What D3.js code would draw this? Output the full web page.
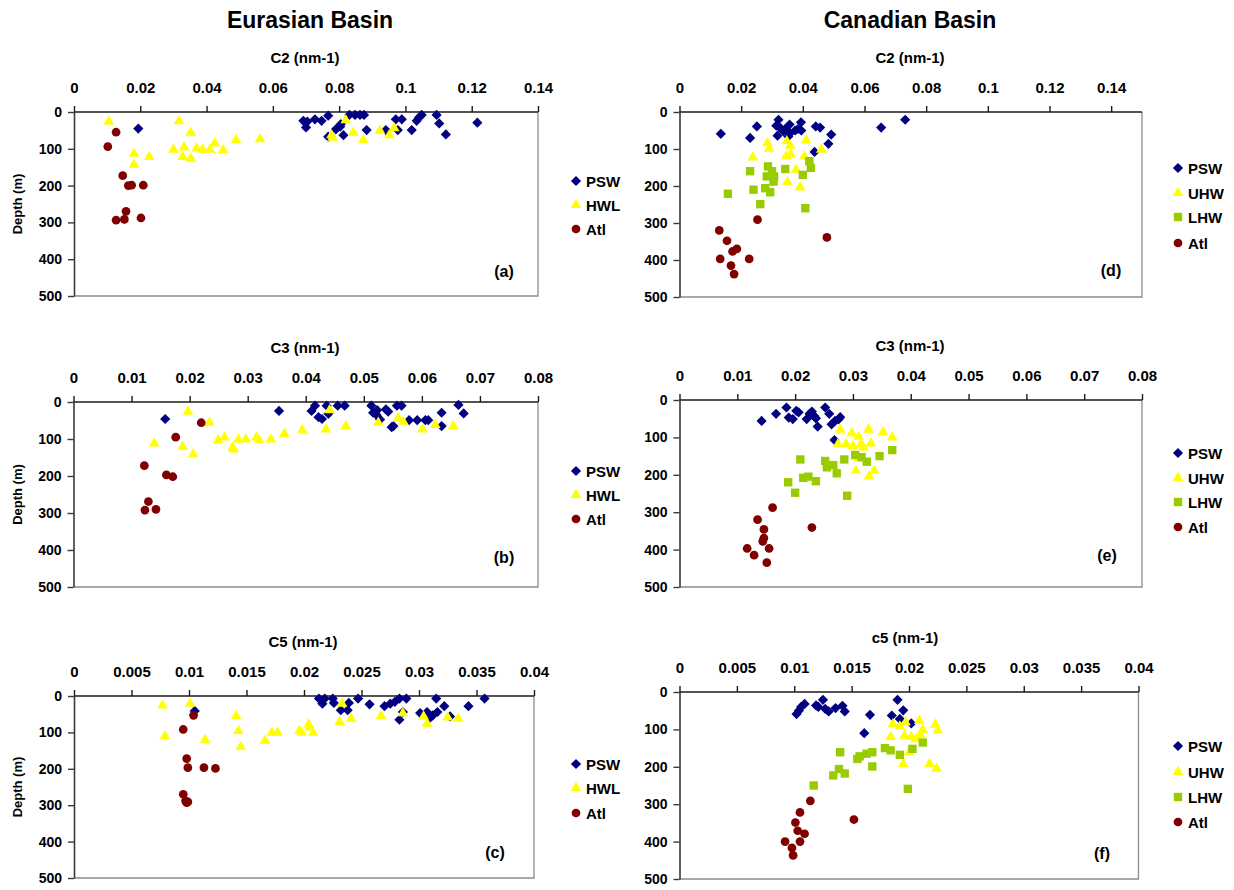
<!DOCTYPE html>
<html><head><meta charset="utf-8">
<script src="https://cdn.jsdelivr.net/npm/d3@7"></script>
<style>
body{margin:0;background:#fff}
text{font-family:Arial,"Liberation Sans",sans-serif;font-weight:bold;fill:#000}
</style></head>
<body><svg id="chart" width="1234" height="890"></svg>
<script>
// ---- data: [coefficient (nm-1), depth (m)] per water mass ----
const eurC2_PSW = [[0.0194,45],[0.0692,24],[0.0700,42],[0.0704,26],[0.0727,20],[0.0747,24],[0.0767,10],[0.0767,67],[0.0790,47],[0.0803,40],[0.0805,33],[0.0813,63],[0.0831,8],[0.0848,8],[0.0863,8],[0.0875,8],[0.0883,49],[0.0941,49],[0.0971,20],[0.0977,49],[0.0989,20],[0.1019,49],[0.1034,24],[0.1041,15],[0.1049,8],[0.1094,8],[0.1102,31],[0.1122,61],[0.1217,29]];
const eurC2_HWL = [[0.0105,26],[0.0181,113],[0.0181,143],[0.0227,122],[0.0317,25],[0.0352,56],[0.0300,102],[0.0332,96],[0.0328,122],[0.0352,126],[0.0370,99],[0.0388,102],[0.0410,102],[0.0425,85],[0.0450,104],[0.0489,76],[0.0561,74],[0.0777,63],[0.0780,70],[0.0820,22],[0.0843,56],[0.0873,76],[0.0923,51],[0.0951,63],[0.0966,44]];
const eurC2_Atl = [[0.0127,55],[0.0102,94],[0.0147,173],[0.0164,200],[0.0174,199],[0.0209,199],[0.0157,270],[0.0127,294],[0.0152,292],[0.0202,288]];

const eurC3_PSW = [[0.0158,46],[0.0354,24],[0.0410,24],[0.0416,10],[0.0422,41],[0.0428,46],[0.0436,10],[0.0439,32],[0.0455,10],[0.0467,10],[0.0513,10],[0.0516,29],[0.0522,35],[0.0523,22],[0.0528,47],[0.0538,20],[0.0542,26],[0.0548,68],[0.0551,65],[0.0557,10],[0.0565,10],[0.0578,49],[0.0592,49],[0.0606,49],[0.0611,49],[0.0634,29],[0.0634,65],[0.0663,8],[0.0672,31]];
const eurC3_HWL = [[0.0139,112],[0.0188,121],[0.0197,26],[0.0206,141],[0.0234,56],[0.0249,103],[0.0260,96],[0.0274,123],[0.0276,128],[0.0284,101],[0.0297,101],[0.0315,96],[0.0320,103],[0.0340,101],[0.0363,86],[0.0394,76],[0.0435,74],[0.0441,22],[0.0469,65],[0.0525,56],[0.0559,44],[0.0568,53],[0.0601,74],[0.0623,62],[0.0654,65]];
const eurC3_Atl = [[0.0122,172],[0.0129,269],[0.0123,292],[0.0142,290],[0.0160,197],[0.0171,202],[0.0176,95],[0.0220,56]];

const eurC5_PSW = [[0.0105,41],[0.0213,7],[0.0216,21],[0.0218,7],[0.0225,7],[0.0226,19],[0.0232,39],[0.0238,39],[0.0239,19],[0.0247,7],[0.0257,23],[0.0270,28],[0.0275,21],[0.0279,16],[0.0283,7],[0.0289,7],[0.0286,44],[0.0283,65],[0.0301,47],[0.0307,44],[0.0310,59],[0.0312,53],[0.0316,44],[0.0315,7],[0.0322,28],[0.0327,56],[0.0343,28],[0.0357,7]];
const eurC5_HWL = [[0.0077,26],[0.0079,111],[0.0101,21],[0.0114,121],[0.0141,55],[0.0143,96],[0.0145,140],[0.0166,123],[0.0172,101],[0.0177,101],[0.0196,96],[0.0198,101],[0.0204,78],[0.0205,86],[0.0208,101],[0.0231,71],[0.0233,21],[0.0241,62],[0.0267,55],[0.0286,47],[0.0304,56],[0.0307,76],[0.0325,59],[0.0334,62]];
const eurC5_Atl = [[0.0104,53],[0.0095,92],[0.0098,172],[0.0099,197],[0.0113,197],[0.0123,199],[0.0095,270],[0.0097,288],[0.0099,291],[0.0098,293]];

const canC2_PSW = [[0.0134,59],[0.0229,70],[0.0251,39],[0.0321,21],[0.0314,37],[0.0327,43],[0.0318,64],[0.0337,52],[0.0343,46],[0.0357,34],[0.0359,57],[0.0353,66],[0.0375,50],[0.0384,46],[0.0394,28],[0.0395,50],[0.0442,39],[0.0456,42],[0.0492,61],[0.0483,86],[0.0438,108],[0.0654,42],[0.0732,21]];
const canC2_UHW = [[0.0238,123],[0.0285,84],[0.0291,99],[0.0348,79],[0.0359,91],[0.0346,120],[0.0361,115],[0.0378,156],[0.0411,77],[0.0405,120],[0.0460,102],[0.0350,189],[0.0391,204]];
const canC2_LHW = [[0.0229,160],[0.0157,221],[0.0240,210],[0.0262,249],[0.0287,147],[0.0283,174],[0.0300,160],[0.0305,188],[0.0278,206],[0.0294,217],[0.0307,174],[0.0343,154],[0.0400,170],[0.0421,133],[0.0426,151],[0.0408,260]];
const canC2_Atl = [[0.0253,291],[0.0129,320],[0.0154,348],[0.0172,377],[0.0186,370],[0.0132,397],[0.0226,397],[0.0167,415],[0.0177,438],[0.0478,339]];

const canC3_PSW = [[0.0142,56],[0.0167,37],[0.0185,20],[0.0189,47],[0.0196,51],[0.0202,29],[0.0206,33],[0.0220,51],[0.0225,37],[0.0229,31],[0.0233,43],[0.0236,49],[0.0239,71],[0.0252,20],[0.0259,37],[0.0263,65],[0.0269,56],[0.0275,52],[0.0278,46],[0.0268,107]];
const canC3_UHW = [[0.0278,79],[0.0274,118],[0.0288,118],[0.0298,89],[0.0300,123],[0.0310,98],[0.0314,118],[0.0318,127],[0.0327,79],[0.0331,116],[0.0352,86],[0.0368,100],[0.0305,189],[0.0328,204],[0.0337,189],[0.0310,156]];
const canC3_LHW = [[0.0209,159],[0.0188,220],[0.0200,248],[0.0214,208],[0.0223,205],[0.0236,217],[0.0252,163],[0.0255,180],[0.0266,174],[0.0272,196],[0.0285,159],[0.0290,256],[0.0304,147],[0.0315,153],[0.0324,165],[0.0346,150],[0.0368,134]];
const canC3_Atl = [[0.0161,288],[0.0135,320],[0.0146,346],[0.0146,369],[0.0144,378],[0.0117,397],[0.0155,397],[0.0129,415],[0.0151,435],[0.0229,341]];

const canC5_PSW = [[0.0102,59],[0.0104,50],[0.0106,40],[0.0109,32],[0.0119,36],[0.0121,40],[0.0125,21],[0.0127,45],[0.0130,52],[0.0136,43],[0.0142,37],[0.0144,52],[0.0166,61],[0.0161,110],[0.0185,63],[0.0190,21],[0.0195,49],[0.0192,72],[0.0202,84]];
const canC5_UHW = [[0.0186,86],[0.0192,92],[0.0197,81],[0.0209,77],[0.0212,101],[0.0223,87],[0.0225,103],[0.0184,120],[0.0196,117],[0.0202,120],[0.0206,126],[0.0210,114],[0.0200,161],[0.0195,192],[0.0218,192],[0.0224,205]];
const canC5_LHW = [[0.0117,250],[0.0140,161],[0.0134,223],[0.0139,206],[0.0144,218],[0.0155,179],[0.0157,172],[0.0163,165],[0.0168,161],[0.0168,199],[0.0179,150],[0.0184,156],[0.0192,168],[0.0203,152],[0.0199,259],[0.0212,135]];
const canC5_Atl = [[0.0114,291],[0.0105,322],[0.0101,349],[0.0103,371],[0.0109,379],[0.0092,400],[0.0105,400],[0.0098,417],[0.0099,437],[0.0152,341]];

// ---- axis ticks ----
const ticksC2 = [0, 0.02, 0.04, 0.06, 0.08, 0.1, 0.12, 0.14];
const ticksC3 = [0, 0.01, 0.02, 0.03, 0.04, 0.05, 0.06, 0.07, 0.08];
const ticksC5 = [0, 0.005, 0.01, 0.015, 0.02, 0.025, 0.03, 0.035, 0.04];
const depthTicks = [0, 100, 200, 300, 400, 500];

const basinTitles = ["Eurasian Basin", "Canadian Basin"];

// ---- marker styles per water mass ----
const styles = {
  PSW: {fill: "#000080", shape: "diamond"},
  HWL: {fill: "#FFFF00", shape: "triangle"},
  UHW: {fill: "#FFFF00", shape: "triangle"},
  LHW: {fill: "#99CC00", shape: "square"},
  Atl: {fill: "#800000", shape: "circle"}
};
const symbolPath = {
  diamond: d3.symbol(d3.symbolSquare, 52)(),
  triangle: d3.symbol(d3.symbolTriangle, 50)(),
  square: d3.symbol(d3.symbolSquare, 70)(),
  circle: d3.symbol(d3.symbolCircle, 60)()
};
const symbolRotate = {diamond: 45, triangle: 0, square: 0, circle: 0};

// ---- panel layout ----
const panels = [
  {x0: 74, x1: 538, y0: 112, y1: 296, xmax: 0.14, ticks: ticksC2, title: "C2 (nm-1)", titleX: 305,
   series: [["PSW", eurC2_PSW], ["HWL", eurC2_HWL], ["Atl", eurC2_Atl]],
   legX: 576, legY: [181, 205, 229], tag: "(a)", tagX: 504, tagY: 271, depthTitle: true},
  {x0: 73.5, x1: 538, y0: 402, y1: 587, xmax: 0.08, ticks: ticksC3, title: "C3 (nm-1)", titleX: 305,
   series: [["PSW", eurC3_PSW], ["HWL", eurC3_HWL], ["Atl", eurC3_Atl]],
   legX: 576, legY: [471, 495, 519], tag: "(b)", tagX: 504, tagY: 557, depthTitle: true},
  {x0: 74, x1: 534, y0: 696, y1: 878, xmax: 0.04, ticks: ticksC5, title: "C5 (nm-1)", titleX: 303,
   series: [["PSW", eurC5_PSW], ["HWL", eurC5_HWL], ["Atl", eurC5_Atl]],
   legX: 576, legY: [764, 788, 813], tag: "(c)", tagX: 495, tagY: 852, depthTitle: true},
  {x0: 679.5, x1: 1142, y0: 112, y1: 297, xmax: 0.15, ticks: ticksC2, title: "C2 (nm-1)", titleX: 910,
   series: [["PSW", canC2_PSW], ["UHW", canC2_UHW], ["LHW", canC2_LHW], ["Atl", canC2_Atl]],
   legX: 1178, legY: [168, 193, 217, 243], tag: "(d)", tagX: 1111, tagY: 270, depthTitle: false},
  {x0: 679.5, x1: 1142, y0: 400, y1: 587, xmax: 0.08, ticks: ticksC3, title: "C3 (nm-1)", titleX: 910,
   series: [["PSW", canC3_PSW], ["UHW", canC3_UHW], ["LHW", canC3_LHW], ["Atl", canC3_Atl]],
   legX: 1178, legY: [453, 478, 502, 527], tag: "(e)", tagX: 1107, tagY: 555, depthTitle: false},
  {x0: 679.5, x1: 1138.5, y0: 692, y1: 879, xmax: 0.04, ticks: ticksC5, title: "c5 (nm-1)", titleX: 905,
   series: [["PSW", canC5_PSW], ["UHW", canC5_UHW], ["LHW", canC5_LHW], ["Atl", canC5_Atl]],
   legX: 1178, legY: [746, 772, 797, 822], tag: "(f)", tagX: 1102, tagY: 853, depthTitle: false}
];

const svg = d3.select("#chart");

svg.selectAll("text.basin").data(basinTitles).join("text")
  .attr("class", "basin")
  .attr("x", (d, i) => i === 0 ? 310 : 910)
  .attr("y", 28)
  .attr("text-anchor", "middle")
  .style("font-size", "23px")
  .text(d => d);

panels.forEach(p => {
  const g = svg.append("g");
  const x = d3.scaleLinear().domain([0, p.xmax]).range([p.x0, p.x1]);
  const y = d3.scaleLinear().domain([0, 500]).range([p.y0, p.y1]);

  // plot frame (right and bottom edges)
  g.append("path")
    .attr("d", `M${p.x0},${p.y1}H${p.x1}V${p.y0}`)
    .attr("fill", "none").attr("stroke", "#8c8c8c").attr("stroke-width", 1.3);

  // depth axis on the left
  const yAxis = d3.axisLeft(y).tickValues(depthTicks).tickSize(6).tickSizeOuter(0).tickPadding(6);
  const ya = g.append("g").attr("transform", `translate(${p.x0},0)`).call(yAxis);
  ya.select(".domain").attr("stroke", "#3a3a3a").attr("stroke-width", 1.6);
  ya.selectAll(".tick line").attr("stroke", "#3a3a3a").attr("stroke-width", 1.4);
  ya.selectAll(".tick text").style("font-size", "14px").style("font-family", "Arial, 'Liberation Sans', sans-serif").style("font-weight", "bold");

  // coefficient axis along the top
  const xAxis = d3.axisTop(x).tickValues(p.ticks).tickFormat(d => String(d)).tickSize(6).tickSizeOuter(0).tickPadding(13);
  const xa = g.append("g").attr("transform", `translate(0,${p.y0})`).call(xAxis);
  xa.select(".domain").attr("stroke", "#1a1a1a").attr("stroke-width", 1.6)
    .attr("d", `M${p.x0},0H${p.x1}`);
  xa.selectAll(".tick line").attr("stroke", "#1a1a1a").attr("stroke-width", 1.4);
  xa.selectAll(".tick text").style("font-size", "15px").style("font-family", "Arial, 'Liberation Sans', sans-serif").style("font-weight", "bold");

  g.append("text").attr("x", p.titleX).attr("y", p.y0 - 49)
    .attr("text-anchor", "middle").style("font-size", "15px").text(p.title);

  if (p.depthTitle) {
    g.append("text")
      .attr("transform", `translate(22,${(p.y0 + p.y1) / 2}) rotate(-90)`)
      .attr("text-anchor", "middle").style("font-size", "13px").text("Depth (m)");
  }

  // data points, drawn series by series
  p.series.forEach(([key, pts]) => {
    const st = styles[key];
    g.append("g").selectAll("path").data(pts).join("path")
      .attr("d", symbolPath[st.shape])
      .attr("transform", d => `translate(${x(d[0])},${y(d[1])}) rotate(${symbolRotate[st.shape]})`)
      .attr("fill", st.fill);
  });

  // legend
  p.series.forEach(([key], i) => {
    const st = styles[key];
    const ly = p.legY[i];
    g.append("path").attr("d", symbolPath[st.shape])
      .attr("transform", `translate(${p.legX},${ly}) rotate(${symbolRotate[st.shape]})`)
      .attr("fill", st.fill);
    g.append("text").attr("x", p.legX + 10).attr("y", ly + 5.5)
      .style("font-size", "15px").text(key);
  });

  g.append("text").attr("x", p.tagX).attr("y", p.tagY + 6)
    .attr("text-anchor", "middle").style("font-size", "16px").text(p.tag);
});
</script>
</body></html>
